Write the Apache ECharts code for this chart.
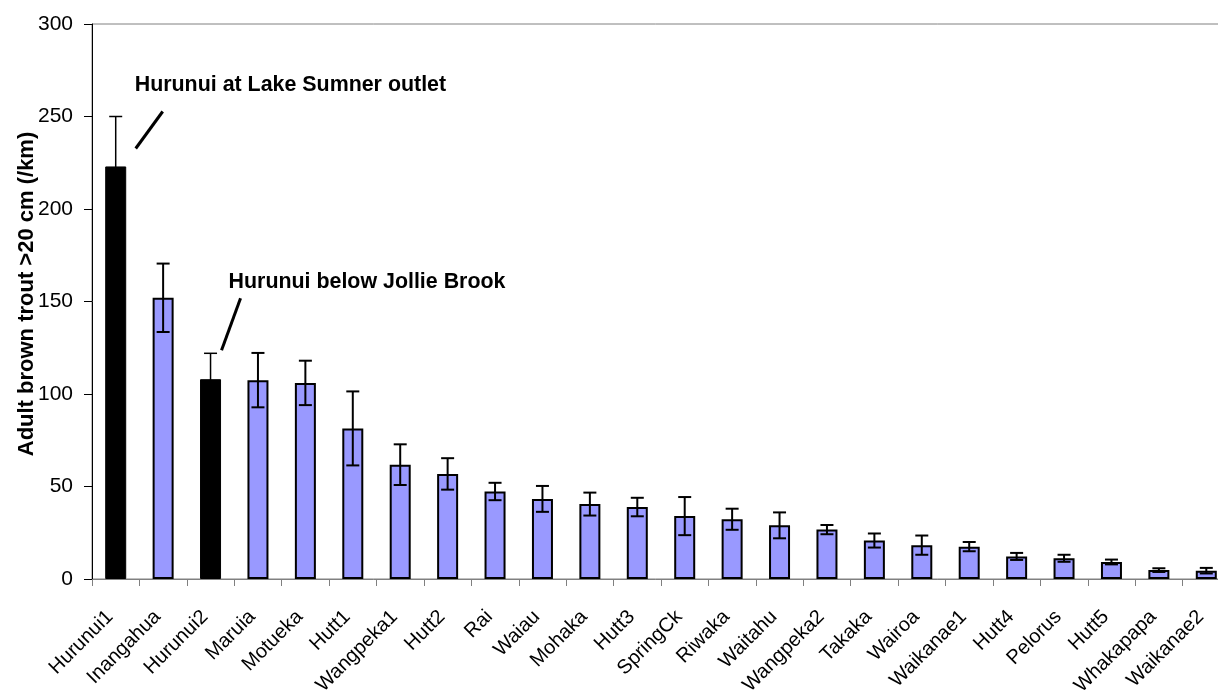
<!DOCTYPE html>
<html>
<head>
<meta charset="utf-8">
<script src="https://cdn.jsdelivr.net/npm/echarts@6/dist/echarts.min.js"></script>
<style>
  html, body { margin: 0; padding: 0; background: #fff; }
  #chart { width: 1218px; height: 692px; }
</style>
</head>
<body>
<div id="chart"></div>
<script>
// Sites, ordered by adult brown trout density
const categories = ['Hurunui1', 'Inangahua', 'Hurunui2', 'Maruia', 'Motueka', 'Hutt1',
  'Wangpeka1', 'Hutt2', 'Rai', 'Waiau', 'Mohaka', 'Hutt3', 'SpringCk', 'Riwaka',
  'Waitahu', 'Wangpeka2', 'Takaka', 'Wairoa', 'Waikanae1', 'Hutt4', 'Pelorus',
  'Hutt5', 'Whakapapa', 'Waikanae2'];

// Mean density (fish per km) and error (±)
const densities = [223, 152, 108, 107.5, 106, 81.4, 61.8, 56.8, 47.3, 43.3, 40.5, 38.9,
  34, 32.3, 29, 26.7, 20.8, 18.3, 17.5, 12.2, 11.2, 9.2, 4.8, 4.5];
const errors = [27, 18.5, 14, 14.7, 12, 20, 11, 8.5, 4.7, 7, 6.2, 5,
  10.3, 5.7, 7, 2.5, 3.8, 5.2, 2.5, 1.9, 1.9, 1.3, 1, 1.5];

// Hurunui sites are shown in black
const hurunuiSites = ['Hurunui1', 'Hurunui2'];

const yTicks = [0, 50, 100, 150, 200, 250, 300];

const FONT = 'Liberation Sans, Arial, sans-serif';

const chart = echarts.init(document.getElementById('chart'));

const barData = categories.map((c, i) => {
  const dark = hurunuiSites.includes(c);
  return {
    value: densities[i],
    itemStyle: dark
      ? { color: '#000000', borderColor: '#000000', borderWidth: 1 }
      : { color: '#9999FF', borderColor: '#000000', borderWidth: 2 }
  };
});

const errData = categories.map((c, i) => [i, densities[i], errors[i], hurunuiSites.includes(c) ? 1 : 0]);

chart.setOption({
  animation: false,
  backgroundColor: '#ffffff',
  textStyle: { fontFamily: FONT },
  grid: {
    left: 92, top: 24, width: 1138, height: 555,
    outerBoundsMode: 'none',
    containLabel: false,
    show: true, borderColor: '#808080', borderWidth: 1, backgroundColor: 'transparent'
  },
  xAxis: {
    type: 'category',
    data: categories,
    boundaryGap: true,
    axisLine: { lineStyle: { color: '#808080', width: 1 } },
    axisTick: { show: true, interval: 0, length: 7, lineStyle: { color: '#808080' } },
    axisLabel: {
      interval: 0, rotate: 45, margin: 29, padding: [0, 8, 0, 0],
      color: '#000', fontSize: 20, fontFamily: FONT
    },
    splitLine: { show: false }
  },
  yAxis: {
    type: 'value',
    min: yTicks[0], max: yTicks[yTicks.length - 1], interval: 50,
    name: 'Adult brown trout >20 cm (/km)',
    nameLocation: 'middle',
    nameGap: 54,
    nameMoveOverlap: false,
    nameTextStyle: { color: '#000', fontSize: 22, fontWeight: 'bold', fontFamily: FONT, padding: [0, 0, 0, 15] },
    axisLine: { show: true, lineStyle: { color: '#000', width: 1 } },
    axisTick: { show: true, length: 8, lineStyle: { color: '#000' } },
    axisLabel: { color: '#000', fontSize: 21, margin: 19, fontFamily: FONT },
    splitLine: { show: false }
  },
  series: [
    {
      type: 'bar',
      data: barData,
      barWidth: 21,
      z: 2
    },
    {
      type: 'custom',
      data: errData,
      encode: { x: 0, y: 1 },
      z: 3,
      renderItem: function (params, api) {
        const idx = api.value(0);
        const v = api.value(1);
        const e = api.value(2);
        const dark = api.value(3) === 1;
        const hi = api.coord([idx, v + e]);
        const lo = api.coord([idx, v - e]);
        const hw = 6.5;
        const style = { stroke: '#000', lineWidth: dark ? 1.5 : 2 };
        return {
          type: 'group',
          children: [
            { type: 'line', shape: { x1: hi[0], y1: hi[1], x2: lo[0], y2: lo[1] }, style: style },
            { type: 'line', shape: { x1: hi[0] - hw, y1: hi[1], x2: hi[0] + hw, y2: hi[1] }, style: style },
            { type: 'line', shape: { x1: lo[0] - hw, y1: lo[1], x2: lo[0] + hw, y2: lo[1] }, style: style }
          ]
        };
      }
    }
  ]
});

// Callout labels for the two Hurunui sites, placed relative to their error bar tops
function addCallouts() {
  const i1 = categories.indexOf('Hurunui1');
  const i2 = categories.indexOf('Hurunui2');
  const p1 = chart.convertToPixel({ gridIndex: 0 }, [i1, densities[i1] + errors[i1]]);
  const p2 = chart.convertToPixel({ gridIndex: 0 }, [i2, densities[i2] + errors[i2]]);
  const textStyle = { fill: '#000', font: 'bold 21.4px ' + FONT, textVerticalAlign: 'middle' };
  chart.setOption({
    graphic: [
      { type: 'line', shape: { x1: p1[0] + 20, y1: p1[1] + 32, x2: p1[0] + 47, y2: p1[1] - 5 },
        style: { stroke: '#000', lineWidth: 3 } },
      { type: 'text', x: p1[0] + 19, y: p1[1] - 31,
        style: Object.assign({ text: 'Hurunui at Lake Sumner outlet' }, textStyle) },
      { type: 'line', shape: { x1: p2[0] + 11, y1: p2[1] - 3, x2: p2[0] + 30, y2: p2[1] - 55 },
        style: { stroke: '#000', lineWidth: 3 } },
      { type: 'text', x: p2[0] + 18, y: p2[1] - 71,
        style: Object.assign({ text: 'Hurunui below Jollie Brook' }, textStyle) }
    ]
  });
}
addCallouts();
</script>
</body>
</html>
